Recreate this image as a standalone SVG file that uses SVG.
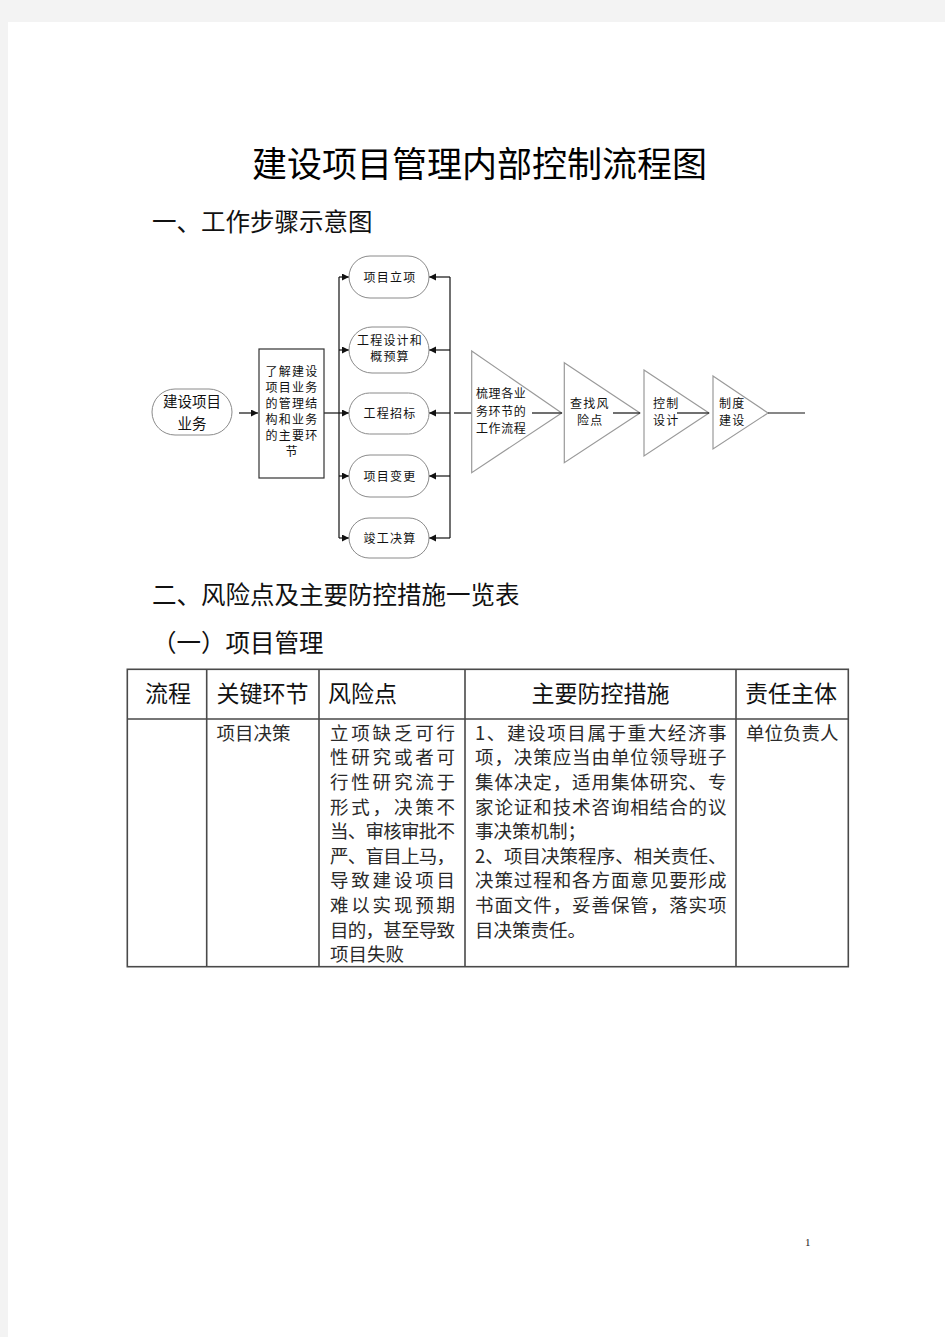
<svg xmlns="http://www.w3.org/2000/svg" width="945" height="1337" viewBox="0 0 945 1337">
<style>
  .sans { font-family: "Noto Sans CJK SC", "Liberation Sans", sans-serif; }
  .h1 { font-size: 35px; fill: #000; }
  .h2 { font-size: 24.5px; fill: #111; }
  .nd { fill: #fff; stroke: #8a8a8a; stroke-width: 1; }
  .tri { fill: #fff; stroke: #9a9a9a; stroke-width: 1.2; }
  .box { fill: #fff; stroke: #333; stroke-width: 1.2; }
  .nt { font-size: 12px; fill: #111; letter-spacing: 1.2px; }
  .nt2 { font-size: 14.5px; fill: #111; }
  .cn { stroke: #111; stroke-width: 1.2; fill: none; }
  .tb { stroke: #4a4a4a; stroke-width: 1.6; fill: none; }
  .th { font-size: 23px; fill: #111; }
  .td { font-size: 18.5px; fill: #2a2a2a; }
</style>
<defs>
  <marker id="ah" markerUnits="userSpaceOnUse" markerWidth="8" markerHeight="8" refX="7" refY="3.5" orient="auto">
    <path d="M0,0 L7,3.5 L0,7 z" fill="#111"/>
  </marker>
</defs>
<rect x="0" y="0" width="945" height="1337" fill="#f3f3f3"/>
<rect x="8" y="22" width="937" height="1315" fill="#fff"/>

<text class="sans h1" x="479.5" y="176.5" text-anchor="middle">建设项目管理内部控制流程图</text>
<text class="sans h2" x="152" y="231">一、工作步骤示意图</text>

<g id="connectors">
  <path class="cn" d="M239,413 H258" marker-end="url(#ah)"/>
  <path class="cn" d="M324,413 H349" marker-end="url(#ah)"/>
  <path class="cn" d="M339,277 V538"/>
  <path class="cn" d="M339,277 H349" marker-end="url(#ah)"/>
  <path class="cn" d="M339,350 H349" marker-end="url(#ah)"/>
  <path class="cn" d="M339,476 H349" marker-end="url(#ah)"/>
  <path class="cn" d="M339,538 H349" marker-end="url(#ah)"/>
  <path class="cn" d="M450,277 V538"/>
  <path class="cn" d="M450,277 H429" marker-end="url(#ah)"/>
  <path class="cn" d="M450,350 H429" marker-end="url(#ah)"/>
  <path class="cn" d="M450,413 H429" marker-end="url(#ah)"/>
  <path class="cn" d="M450,476 H429" marker-end="url(#ah)"/>
  <path class="cn" d="M450,538 H429" marker-end="url(#ah)"/>
  <path class="cn" d="M454,413 H472"/>
</g>

<g id="n-start">
  <rect class="nd" x="152" y="389" width="80" height="46" rx="23"/>
  <text class="sans nt2" x="192" y="407" text-anchor="middle">建设项目</text>
  <text class="sans nt2" x="192" y="428.5" text-anchor="middle">业务</text>
</g>

<g id="n-understand">
  <rect class="box" x="259" y="349" width="65" height="129"/>
  <g class="sans nt" text-anchor="middle">
    <text x="292" y="376">了解建设</text>
    <text x="292" y="392">项目业务</text>
    <text x="292" y="408">的管理结</text>
    <text x="292" y="424">构和业务</text>
    <text x="292" y="440">的主要环</text>
    <text x="292" y="456">节</text>
  </g>
</g>

<g id="n-lixiang">
  <rect class="nd" x="349" y="256" width="80" height="42" rx="21"/>
  <text class="sans nt" x="390" y="281.5" text-anchor="middle">项目立项</text>
</g>
<g id="n-sheji">
  <rect class="nd" x="349" y="327" width="80" height="46" rx="23"/>
  <text class="sans nt" x="390" y="344.5" text-anchor="middle">工程设计和</text>
  <text class="sans nt" x="390" y="360.5" text-anchor="middle">概预算</text>
</g>
<g id="n-zhaobiao">
  <rect class="nd" x="349" y="393" width="80" height="41" rx="20.5"/>
  <text class="sans nt" x="390" y="417.5" text-anchor="middle">工程招标</text>
</g>
<g id="n-biangeng">
  <rect class="nd" x="349" y="455" width="80" height="42" rx="21"/>
  <text class="sans nt" x="390" y="480.5" text-anchor="middle">项目变更</text>
</g>
<g id="n-juesuan">
  <rect class="nd" x="349" y="518" width="80" height="40" rx="20"/>
  <text class="sans nt" x="390" y="542.5" text-anchor="middle">竣工决算</text>
</g>

<g id="t-shuli">
  <polygon class="tri" points="471.7,351 561.7,413 471.7,472.7"/>
  <path class="cn" d="M532,413 H562"/>
  <g class="sans nt" style="letter-spacing:0.6px">
    <text x="476" y="397.5">梳理各业</text>
    <text x="476" y="416">务环节的</text>
    <text x="476" y="432.5">工作流程</text>
  </g>
</g>
<g id="t-chazhao">
  <polygon class="tri" points="564.3,362.7 640,413 564.3,462.7"/>
  <path class="cn" d="M613,413 H640"/>
  <g class="sans nt">
    <text x="570" y="407.5">查找风</text>
    <text x="577" y="424.5">险点</text>
  </g>
</g>
<g id="t-kongzhi">
  <polygon class="tri" points="644,370 709,413 644,456"/>
  <path class="cn" d="M677,413 H709"/>
  <g class="sans nt">
    <text x="653" y="407.5">控制</text>
    <text x="653" y="424.5">设计</text>
  </g>
</g>
<g id="t-zhidu">
  <polygon class="tri" points="713,376 768,413 713,449"/>
  <path class="cn" d="M768,413 H805"/>
  <g class="sans nt">
    <text x="719" y="407.5">制度</text>
    <text x="719" y="424.5">建设</text>
  </g>
</g>

<text class="sans h2" x="152" y="603.5">二、风险点及主要防控措施一览表</text>
<text class="sans h2" x="152" y="651.5">（一）项目管理</text>

<g id="table">
  <rect class="tb" x="127.3" y="669.3" width="721" height="297.4"/>
  <path class="tb" d="M127.3,719 H848.3 M206.7,669.3 V966.7 M319,669.3 V966.7 M465,669.3 V966.7 M736,669.3 V966.7"/>
  <g class="sans th">
    <text x="168" y="701.5" text-anchor="middle">流程</text>
    <text x="216.5" y="701.5">关键环节</text>
    <text x="328" y="701.5">风险点</text>
    <text x="600.5" y="701.5" text-anchor="middle">主要防控措施</text>
    <text x="745" y="701.5">责任主体</text>
  </g>
  <g class="sans td">
    <text x="216.5" y="739.7">项目决策</text>

    <text x="330" y="739.7" textLength="125" lengthAdjust="spacing">立项缺乏可行</text>
    <text x="330" y="764.3" textLength="125" lengthAdjust="spacing">性研究或者可</text>
    <text x="330" y="788.9" textLength="125" lengthAdjust="spacing">行性研究流于</text>
    <text x="330" y="813.5" textLength="125" lengthAdjust="spacing">形式，决策不</text>
    <text x="330" y="838.1" textLength="125" lengthAdjust="spacing">当、审核审批不</text>
    <text x="330" y="862.7" textLength="125" lengthAdjust="spacing">严、盲目上马，</text>
    <text x="330" y="887.3" textLength="125" lengthAdjust="spacing">导致建设项目</text>
    <text x="330" y="911.9" textLength="125" lengthAdjust="spacing">难以实现预期</text>
    <text x="330" y="936.5" textLength="125" lengthAdjust="spacing">目的，甚至导致</text>
    <text x="330" y="961.1">项目失败</text>

    <text x="475" y="739.7" textLength="251.5" lengthAdjust="spacing">1、建设项目属于重大经济事</text>
    <text x="475" y="764.3" textLength="251.5" lengthAdjust="spacing">项，决策应当由单位领导班子</text>
    <text x="475" y="788.9" textLength="251.5" lengthAdjust="spacing">集体决定，适用集体研究、专</text>
    <text x="475" y="813.5" textLength="251.5" lengthAdjust="spacing">家论证和技术咨询相结合的议</text>
    <text x="475" y="838.1">事决策机制；</text>
    <text x="475" y="862.7" textLength="251.5" lengthAdjust="spacing">2、项目决策程序、相关责任、</text>
    <text x="475" y="887.3" textLength="251.5" lengthAdjust="spacing">决策过程和各方面意见要形成</text>
    <text x="475" y="911.9" textLength="251.5" lengthAdjust="spacing">书面文件，妥善保管，落实项</text>
    <text x="475" y="936.5">目决策责任。</text>

    <text x="746" y="739.7">单位负责人</text>
  </g>
</g>

<text x="805" y="1246" style="font-family:'Liberation Serif',serif;font-size:11px;fill:#222">1</text>
</svg>
